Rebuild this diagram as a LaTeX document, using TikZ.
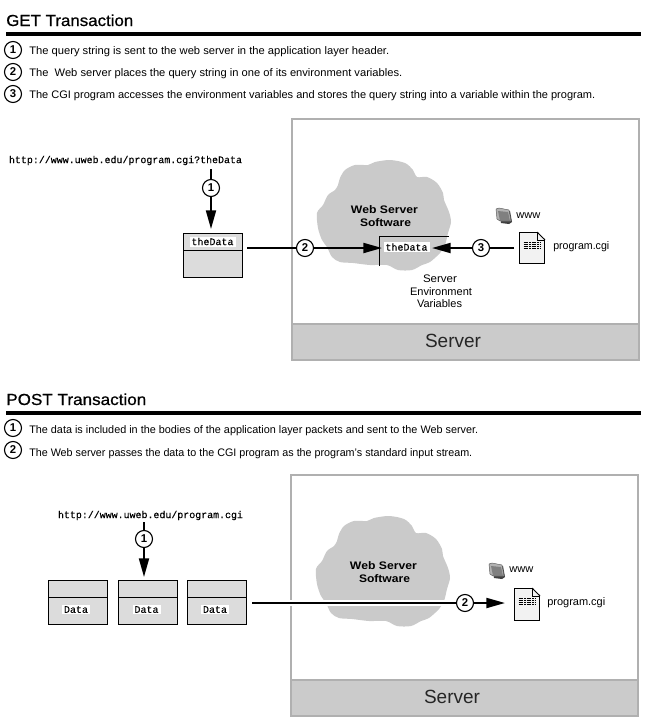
\documentclass[tikz,border=0pt]{standalone}
\usepackage{fontspec}
\usepackage{graphicx}
\usetikzlibrary{arrows.meta}
\setmainfont{Liberation Sans}
\newfontfamily\urlfont{Liberation Mono}[FakeBold=0.3]
\newfontfamily\headfont{Liberation Sans}[FakeBold=0.6]
\newdimen\pxu \pxu=0.75pt
\newcommand{\fitw}[2]{\resizebox{#1\pxu}{\height}{#2}}
\definecolor{bandgray}{HTML}{CBCBCB}
\definecolor{framegray}{HTML}{B0B0B0}
\definecolor{cloudgray}{HTML}{CACACA}
\definecolor{boxgray}{HTML}{DCDCDC}
\tikzset{
  numc/.style={circle,draw=black,fill=white,line width=0.85pt,minimum size=17*0.75pt,inner sep=0pt,font=\fontsize{8.5pt}{9pt}\selectfont\bfseries},
  listtext/.style={anchor=base west,inner sep=0pt,font=\fontsize{8.2pt}{10pt}\selectfont},
  headtext/.style={anchor=base west,inner sep=0pt,font=\fontsize{12pt}{14pt}\selectfont\headfont},
  urltext/.style={inner sep=0pt,font=\fontsize{7.5pt}{9pt}\selectfont\urlfont},
  datatext/.style={fill=white,inner xsep=1.5pt,inner ysep=1pt,font=\fontsize{7.5pt}{9pt}\selectfont\urlfont},
  cloudtext/.style={inner sep=0pt,font=\fontsize{8.2pt}{10pt}\selectfont\bfseries},
  smalltext/.style={inner sep=0pt,font=\fontsize{8.2pt}{10pt}\selectfont},
  servertext/.style={inner sep=0pt,text=black!85,font=\fontsize{14.3pt}{16pt}\selectfont},
  conn/.style={line width=1.5pt},
  arrowconn/.style={conn,-{Triangle[length=14pt,width=7.5pt]}},
  datahalf/.style={draw=black,line width=0.75pt,fill=boxgray,minimum width=59*0.75pt,minimum height=44*0.75pt,inner sep=0pt,outer sep=0pt},
  docnode/.style={draw=black,line width=0.75pt,fill=white!95!black,minimum width=25*0.75pt,inner sep=0pt},
  rulebar/.style={fill=black,draw=none}
}
\newcommand{\cloudshape}{plot[smooth cycle,tension=0.5] coordinates {
 (340,178)(345,170)(355,165)(368,165)(375,162)(390,160)(405,163)(413,170)(417,177)(427,177)(437,183)(443,193)(444,200)(449,212)(451,222)(448,233)(445,245)(440,253)(430,262)(422,265)(412,270)(398,270)(387,265)(370,265)(353,263)(340,262)(332,257)(327,247)(322,240)(318,228)(317,213)(323,205)(328,195)(335,190)(338,185)}}
\newcommand{\foldericon}[2]{%
  \begin{scope}[shift={(#1,#2)}]
    \fill[black!75] (4,3)--(14,3)--(16,14)--(13,16)--(5,15)--cycle;
    \fill[black!30] (0,1)--(3,0)--(13,2)--(15,13)--(4,13)--(1,11)--cycle;
    \fill[black!50] (2,3)--(12,4)--(14,13)--(4,13)--cycle;
    \draw[black!65,line width=0.35pt] (0,1)--(3,0)--(13,2)--(15,13)--(4,13)--(1,11)--cycle;
  \end{scope}}
\newcommand{\docdetail}[1]{%
  \fill[white] ([xshift=-8*0.75pt,yshift=0.6pt]#1.north east) -- ++(8*0.75pt+0.6pt,0) -- ++(0,-8*0.75pt-0.6pt) -- cycle;
  \draw[line width=0.75pt] ([xshift=-8*0.75pt]#1.north east) -- ([yshift=-8*0.75pt]#1.north east);
  \draw[line width=0.4pt] ([xshift=-8*0.75pt]#1.north east) -- ++(0,-8*0.75pt) -- ([yshift=-8*0.75pt]#1.north east);
  \foreach \dy in {0,1.5,3,4.5}{\draw[line width=0.45pt,dash pattern=on 1.5pt off 0.5pt] ([xshift=-6.2pt,yshift=\dy*1pt]#1.center) -- ([xshift=6.2pt,yshift=\dy*1pt]#1.center);}
}
\begin{document}
\begin{tikzpicture}[x=0.75pt,y=-0.75pt]
\useasboundingbox (0,0) rectangle (647,726);
\fill[white] (0,0) rectangle (647,726);

% ---------- GET ----------
\node[headtext] (h1) at (6,26) {\fitw{127}{GET Transaction}};
\fill[rulebar] (6,32) rectangle (641,36);
\node[numc] (l1) at (13,50) {1};
\node[numc] (l2) at (13,72) {2};
\node[numc] (l3) at (13,94) {3};
\node[listtext] (t1) at (29,54) {\fitw{360}{The query string is sent to the web server in the application layer header.}};
\node[listtext] (t2) at (29,76) {\fitw{373}{The\ \ Web server places the query string in one of its environment variables.}};
\node[listtext] (t3) at (29,98) {\fitw{566}{The CGI program accesses the environment variables and stores the query string into a variable within the program.}};

% server frame
\fill[white] (292,119) rectangle (639,360);
\fill[bandgray] (292,324) rectangle (639,360);
\draw[framegray,line width=1pt] (292,324) -- (639,324) (292,119) rectangle (639,360);
\fill[cloudgray] \cloudshape;
\node[cloudtext] (w1a) at (384.5,210) {\fitw{67}{Web Server}};
\node[cloudtext] (w1b) at (385.5,223) {\fitw{51}{Software}};
\node[servertext] (s1) at (453,341) {\fitw{56}{Server}};
\draw[line width=0.75pt] (379.5,266) -- (379.5,236.5) -- (449,236.5);
\node[datatext] (inner) at (406.5,247) {\fitw{42}{theData}};
\node[smalltext] (e1) at (440,279) {\fitw{34}{Server}};
\node[smalltext] (e2) at (441,291.5) {\fitw{62}{Environment}};
\node[smalltext] (e3) at (439.5,304) {\fitw{45}{Variables}};

\foldericon{496}{208}
\node[smalltext,anchor=west] (www1) at (516,216) {\fitw{24}{www}};
\node[docnode,minimum height=31*0.75pt] (doc1) at (532,248) {};
\docdetail{doc1}
\node[smalltext,anchor=west] (prog1) at (553,246.5) {\fitw{56}{program.cgi}};

\node[urltext] (url1) at (125.5,160.5) {\fitw{233}{http://www.uweb.edu/program.cgi?theData}};
\node[datahalf] (box1) at (213,255.5) {};
\draw[line width=0.75pt] (box1.west |- 0,250.5) -- (box1.east |- 0,250.5);
\node[datatext] (d1) at (212.5,241.5) {\fitw{42}{theData}};

\node[numc] (c1a) at (211,188) {1};
\node[numc] (c2a) at (305,248) {2};
\node[numc] (c3a) at (481,248) {3};
\coordinate (u1) at (211,169);
\coordinate (b1e) at (247,248);
\coordinate (i1w) at (382,248);
\coordinate (i1e) at (432,248);
\coordinate (d1w) at (514,248);
\coordinate (b1n) at (211,229);
\draw[conn] (u1) -- (c1a);
\draw[arrowconn] (c1a) -- (b1n);
\draw[conn] (b1e) -- (c2a);
\draw[arrowconn] (c2a) -- (i1w);
\draw[conn] (d1w) -- (c3a);
\draw[arrowconn] (c3a) -- (i1e);

% ---------- POST ----------
\node[headtext] (h2) at (6,405) {\fitw{140}{POST Transaction}};
\fill[rulebar] (6,411) rectangle (641,415);
\node[numc] (l4) at (13,428) {1};
\node[numc] (l5) at (13,450) {2};
\node[listtext] (t4) at (29,433) {\fitw{449}{The data is included in the bodies of the application layer packets and sent to the Web server.}};
\node[listtext] (t5) at (29,456) {\fitw{443}{The Web server passes the data to the CGI program as the program's standard input stream.}};

\fill[white] (291,475) rectangle (638,716);
\fill[bandgray] (291,680) rectangle (638,716);
\draw[framegray,line width=1pt] (291,680) -- (638,680) (291,475) rectangle (638,716);
\begin{scope}[shift={(-1,356)}]
\fill[cloudgray] \cloudshape;
\end{scope}
\node[cloudtext] (w2a) at (383.5,566) {\fitw{67}{Web Server}};
\node[cloudtext] (w2b) at (384.5,579) {\fitw{51}{Software}};
\node[servertext] (s2) at (452,697) {\fitw{56}{Server}};

\foldericon{489}{563}
\node[smalltext,anchor=west] (www2) at (509,570) {\fitw{24}{www}};
\node[docnode,minimum height=32*0.75pt] (doc2) at (527,604.5) {};
\docdetail{doc2}
\node[smalltext,anchor=west] (prog2) at (547,602.5) {\fitw{58}{program.cgi}};

\node[urltext] (url2) at (150.5,515.5) {\fitw{185}{http://www.uweb.edu/program.cgi}};
\node[datahalf] (p1) at (78,602.5) {};
\node[datahalf] (p2) at (148,602.5) {};
\node[datahalf] (p3) at (217,602.5) {};
\draw[line width=0.75pt] (p1.west |- 0,597.5) -- (p1.east |- 0,597.5);
\draw[line width=0.75pt] (p2.west |- 0,597.5) -- (p2.east |- 0,597.5);
\draw[line width=0.75pt] (p3.west |- 0,597.5) -- (p3.east |- 0,597.5);
\node[datatext] (dp1) at (76,609.5) {\fitw{24}{Data}};
\node[datatext] (dp2) at (146.5,609.5) {\fitw{24}{Data}};
\node[datatext] (dp3) at (215,609.5) {\fitw{24}{Data}};

\node[numc] (c1b) at (144,539) {1};
\node[numc] (c2b) at (465,603) {2};
\coordinate (u2) at (144,522);
\coordinate (p2n) at (144,577);
\coordinate (p3e) at (252,603);
\coordinate (d2w) at (505,603);
\draw[white,line width=5pt] (p3e) -- (c2b);
\draw[conn] (u2) -- (c1b);
\draw[arrowconn] (c1b) -- (p2n);
\draw[conn] (p3e) -- (c2b);
\draw[arrowconn] (c2b) -- (d2w);
\end{tikzpicture}
\end{document}
